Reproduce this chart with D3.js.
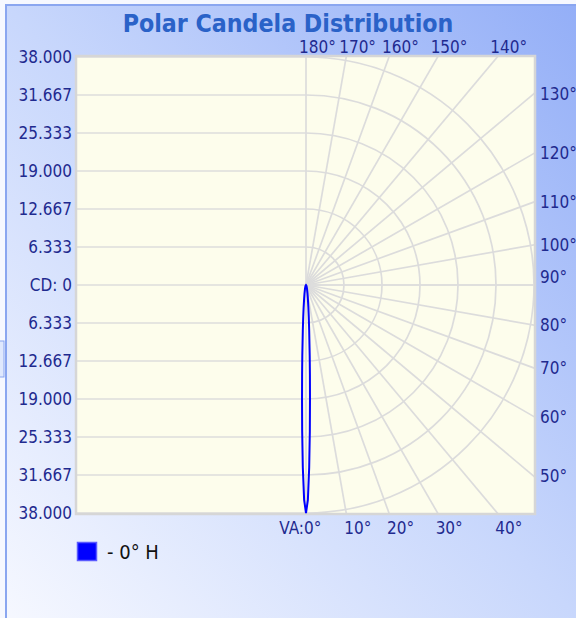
<!DOCTYPE html>
<html>
<head>
<meta charset="utf-8">
<script src="https://cdn.jsdelivr.net/npm/d3@7"></script>
<style>
  html, body { margin: 0; padding: 0; background: #f2f5ff; }
  svg { display: block; }
  text { font-family: "DejaVu Sans Condensed", "DejaVu Sans", sans-serif; }
</style>
</head>
<body>
<script>
const width = 576;
const height = 618;

// candela ticks on the vertical axis (upper half then lower half)
const cdTicks = [38, 31.667, 25.333, 19, 12.667, 6.333, 0, -6.333, -12.667, -19, -25.333, -31.667, -38];
const cdMax = 38;

// vertical angle gridlines (degrees, 0 = straight down)
const vaAngles = [0, 10, 20, 30, 40, 50, 60, 70, 80, 90, 100, 110, 120, 130, 140, 150, 160, 170, 180];
// concentric rings (cd)
const ringValues = [6.333, 12.667, 19, 25.333, 31.667, 38];

// 0° H plane candela curve
const curveAngles = [0, 0.5, 1, 1.5, 2, 2.5, 3, 4, 5, 6, 8, 10, 15, 20, 30, 45, 90];
const curveCandela = [38, 35.8, 30.4, 24.4, 19, 14.9, 11.8, 7.6, 5.3, 3.8, 2.2, 1.45, 0.64, 0.35, 0.15, 0.05, 0];

const seriesName = '- 0° H';

const plot = { left: 77, right: 534, top: 57, bottom: 513 };
const cx = 306;

const svg = d3.select('body').append('svg')
    .attr('width', width)
    .attr('height', height);

// background gradient
const defs = svg.append('defs');
const grad = defs.append('linearGradient')
    .attr('id', 'bg')
    .attr('x1', '0%').attr('y1', '100%')
    .attr('x2', '100%').attr('y2', '0%');
grad.append('stop').attr('offset', '0%').attr('stop-color', '#f6f8ff');
grad.append('stop').attr('offset', '50%').attr('stop-color', '#c8d7fc');
grad.append('stop').attr('offset', '100%').attr('stop-color', '#93aef7');

defs.append('clipPath').attr('id', 'plotClip')
    .append('rect')
    .attr('x', plot.left).attr('y', plot.top)
    .attr('width', plot.right - plot.left).attr('height', plot.bottom - plot.top);

svg.append('rect').attr('width', width).attr('height', height).attr('fill', '#f6f8ff');
svg.append('rect')
    .attr('x', 6).attr('y', 5)
    .attr('width', width).attr('height', height)
    .attr('fill', 'url(#bg)')
    .attr('stroke', '#8aa6f0')
    .attr('stroke-width', 2);

// small piece of a neighbouring control at the left edge
svg.append('rect')
    .attr('x', -2).attr('y', 341)
    .attr('width', 6).attr('height', 36)
    .attr('fill', '#dfe8fd')
    .attr('stroke', '#8aa6f0')
    .attr('stroke-width', 1);

// title
svg.append('text')
    .attr('x', 288)
    .attr('y', 32)
    .attr('text-anchor', 'middle')
    .attr('font-size', '24.7px')
    .attr('font-weight', 'bold')
    .attr('fill', '#2a62c8')
    .text('Polar Candela Distribution');

// scales
const yScale = d3.scaleLinear().domain([-cdMax, cdMax]).range([plot.bottom, plot.top]);
const cy = yScale(0);
const rScale = d3.scaleLinear().domain([0, cdMax]).range([0, cy - plot.top]);

// plot background
svg.append('rect')
    .attr('x', plot.left).attr('y', plot.top)
    .attr('width', plot.right - plot.left).attr('height', plot.bottom - plot.top)
    .attr('fill', '#fdfdec');

const grid = svg.append('g')
    .attr('clip-path', 'url(#plotClip)')
    .attr('fill', 'none')
    .attr('stroke', '#dcdcdc')
    .attr('stroke-width', 1.7);

// horizontal lines on the left half
grid.selectAll('line.h')
    .data(cdTicks)
    .enter().append('line')
    .attr('class', 'h')
    .attr('x1', plot.left)
    .attr('x2', d => d === 0 ? plot.right : cx)
    .attr('y1', d => yScale(d))
    .attr('y2', d => yScale(d));

// concentric half rings on the right
const ringArc = d3.arc()
    .innerRadius(d => rScale(d))
    .outerRadius(d => rScale(d))
    .startAngle(0)
    .endAngle(Math.PI);
grid.selectAll('path.ring')
    .data(ringValues)
    .enter().append('path')
    .attr('class', 'ring')
    .attr('transform', `translate(${cx},${cy})`)
    .attr('d', d => ringArc(d));

// radial lines, long enough to be clipped at the plot edge
const longR = 600;
grid.selectAll('line.ray')
    .data(vaAngles)
    .enter().append('line')
    .attr('class', 'ray')
    .attr('x1', cx).attr('y1', cy)
    .attr('x2', d => cx + longR * Math.sin(d * Math.PI / 180))
    .attr('y2', d => cy + longR * Math.cos(d * Math.PI / 180));

// plot border
svg.append('rect')
    .attr('x', plot.left - 1).attr('y', plot.top - 1)
    .attr('width', plot.right - plot.left + 2).attr('height', plot.bottom - plot.top + 2)
    .attr('fill', 'none')
    .attr('stroke', '#d6d6d6')
    .attr('stroke-width', 2.5);

// candela curve (right side and mirrored left side)
const pts = curveAngles.map((a, i) => ({ a: a, v: curveCandela[i] }));
const full = pts.map(p => [Math.PI - p.a * Math.PI / 180, rScale(p.v)])
    .concat(pts.slice().reverse().map(p => [Math.PI + p.a * Math.PI / 180, rScale(p.v)]));
const radial = d3.lineRadial().curve(d3.curveLinearClosed);
svg.append('path')
    .attr('transform', `translate(${cx},${cy})`)
    .attr('d', radial(full))
    .attr('fill', 'none')
    .attr('stroke', '#0000ff')
    .attr('stroke-width', 2);

// labels
const labelColor = '#1f2a8f';
const fs = '17px';

svg.append('g').selectAll('text')
    .data(cdTicks)
    .enter().append('text')
    .attr('x', 72)
    .attr('y', d => yScale(d))
    .attr('dy', '0.36em')
    .attr('text-anchor', 'end')
    .attr('font-size', fs)
    .attr('fill', labelColor)
    .text(d => d === 0 ? 'CD: 0' : d3.format('.3f')(Math.abs(d)));

// where each ray leaves the plot area
function exitPoint(deg) {
    const dx = Math.sin(deg * Math.PI / 180);
    const dy = Math.cos(deg * Math.PI / 180);
    let t = Infinity;
    let side = 'right';
    if (dx > 1e-9) { t = (plot.right - cx) / dx; }
    if (dy > 1e-9 && (plot.bottom - cy) / dy < t) { t = (plot.bottom - cy) / dy; side = 'bottom'; }
    if (dy < -1e-9 && (plot.top - cy) / dy < t) { t = (plot.top - cy) / dy; side = 'top'; }
    return { x: cx + t * dx, y: cy + t * dy, side: side };
}

const angLabels = svg.append('g');
vaAngles.forEach(a => {
    const p = exitPoint(a);
    const t = angLabels.append('text')
        .attr('font-size', fs)
        .attr('fill', labelColor)
        .text(a + '°');
    if (p.side === 'bottom') {
        t.attr('x', p.x - 2).attr('y', 528).attr('dy', '0.36em');
        if (a === 0) {
            angLabels.append('text')
                .attr('x', p.x - 2).attr('y', 528).attr('dy', '0.36em')
                .attr('text-anchor', 'end')
                .attr('font-size', fs)
                .attr('fill', labelColor)
                .text('VA:');
        }
    } else if (p.side === 'right') {
        t.attr('x', plot.right + 6).attr('y', a === 90 ? p.y - 8 : p.y).attr('dy', '0.36em');
    } else {
        t.attr('x', p.x - 7).attr('y', 47).attr('dy', '0.36em');
    }
});

// legend
svg.append('rect')
    .attr('x', 77.5).attr('y', 542.5)
    .attr('width', 19).attr('height', 18)
    .attr('fill', '#0000ff')
    .attr('stroke', '#5a5aff')
    .attr('stroke-width', 1.5);
svg.append('text')
    .attr('x', 107)
    .attr('y', 552)
    .attr('dy', '0.36em')
    .attr('font-family', '"DejaVu Sans", sans-serif')
    .attr('font-size', '20px')
    .attr('fill', '#111')
    .text(seriesName);
</script>
</body>
</html>
